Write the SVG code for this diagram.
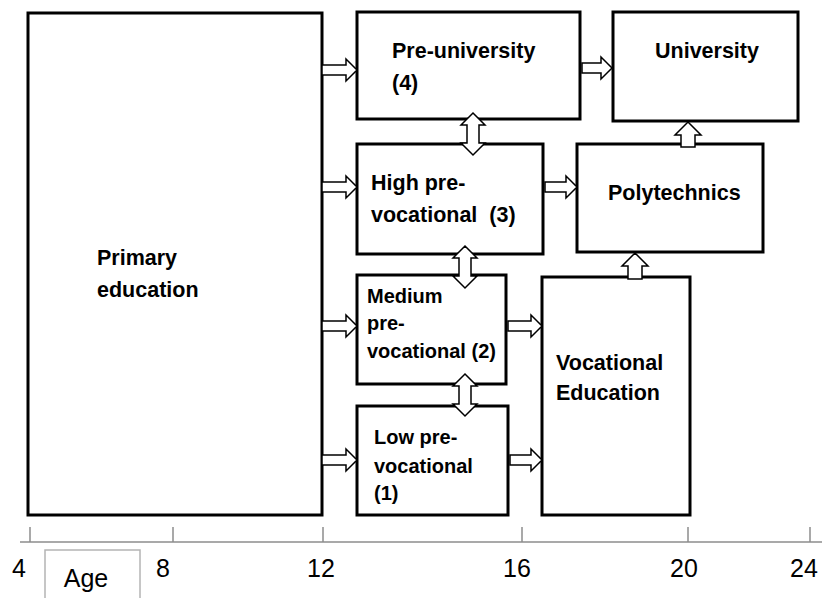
<svg xmlns="http://www.w3.org/2000/svg" width="827" height="598" viewBox="0 0 827 598">
<style>
.box{fill:#fff;stroke:#000;stroke-width:3}
.arr{fill:#fff;stroke:#000;stroke-width:1.5;stroke-linejoin:miter}
.t{font-family:"Liberation Sans",Arial,sans-serif;font-weight:bold;font-size:21.5px;fill:#000}
.ts{font-family:"Liberation Sans",Arial,sans-serif;font-weight:bold;font-size:20px;fill:#000}
.ax{font-family:"Liberation Sans",Arial,sans-serif;font-size:25px;fill:#000;text-anchor:middle}
.tick{stroke:#8c8c8c;stroke-width:1.5}
</style>
<rect width="827" height="598" fill="#fff"/>
<g id="primary"><rect class="box" x="28" y="13" width="294" height="502"/><text class="t" x="97" y="265">Primary</text><text class="t" x="97" y="297">education</text></g>
<g id="preuniversity"><rect class="box" x="357" y="12" width="223" height="107"/><text class="t" x="392" y="58">Pre-university</text><text class="t" x="392" y="90">(4)</text></g>
<g id="university"><rect class="box" x="613" y="12" width="185" height="109"/><text class="t" x="655" y="58">University</text></g>
<g id="highpre"><rect class="box" x="357" y="144" width="186" height="110"/><text class="t" x="371" y="190">High pre-</text><text class="t" x="371" y="222" xml:space="preserve">vocational  (3)</text></g>
<g id="polytechnics"><rect class="box" x="577" y="144" width="186" height="108"/><text class="t" x="608" y="200">Polytechnics</text></g>
<g id="mediumpre"><rect class="box" x="357" y="275" width="149" height="109"/><text class="ts" x="367" y="303">Medium</text><text class="ts" x="367" y="330">pre-</text><text class="ts" x="367" y="358">vocational (2)</text></g>
<g id="vocational"><rect class="box" x="542" y="277" width="148" height="238"/><text class="t" x="556" y="370">Vocational</text><text class="t" x="556" y="400">Education</text></g>
<g id="lowpre"><rect class="box" x="357" y="406" width="151" height="109"/><text class="ts" x="374" y="444">Low pre-</text><text class="ts" x="374" y="473">vocational</text><text class="ts" x="374" y="500">(1)</text></g>
<g id="connectors">
<path class="arr" d="M322,65 H346 V59 L357,70 L346,81 V75 H322 Z"/>
<path class="arr" d="M322,182 H346 V176 L357,187 L346,198 V192 H322 Z"/>
<path class="arr" d="M322,321 H346 V315 L357,326 L346,337 V331 H322 Z"/>
<path class="arr" d="M322,455 H346 V449 L357,460 L346,471 V465 H322 Z"/>
<path class="arr" d="M582,63 H601 V57 L612,68 L601,79 V73 H582 Z"/>
<path class="arr" d="M545,182 H566 V176 L577,187 L566,198 V192 H545 Z"/>
<path class="arr" d="M508,321 H531 V315 L542,326 L531,337 V331 H508 Z"/>
<path class="arr" d="M510,455 H531 V449 L542,460 L531,471 V465 H510 Z"/>
<path class="arr" d="M473,113 L485,125 H479 V143 H485 L473,155 L461,143 H467 V125 H461 Z"/>
<path class="arr" d="M465,246 L477,258 H471 V276 H477 L465,288 L453,276 H459 V258 H453 Z"/>
<path class="arr" d="M465,374 L477,386 H471 V404 H477 L465,416 L453,404 H459 V386 H453 Z"/>
<path class="arr" d="M688,122 L701,135 H695 V147 H681 V135 H675 Z"/>
<path class="arr" d="M635,253 L648,266 H642 V279 H628 V266 H622 Z"/>
</g>
<g id="axis">
<line class="tick" x1="20" y1="542" x2="822" y2="542"/>
<line class="tick" x1="30" y1="527" x2="30" y2="542"/>
<line class="tick" x1="173" y1="527" x2="173" y2="542"/>
<line class="tick" x1="323" y1="527" x2="323" y2="542"/>
<line class="tick" x1="522" y1="527" x2="522" y2="542"/>
<line class="tick" x1="688" y1="527" x2="688" y2="542"/>
<line class="tick" x1="810" y1="527" x2="810" y2="542"/>
<text class="ax" x="19" y="577">4</text>
<text class="ax" x="163" y="577">8</text>
<text class="ax" x="321" y="577">12</text>
<text class="ax" x="517" y="577">16</text>
<text class="ax" x="684" y="577">20</text>
<text class="ax" x="804" y="577">24</text>
<rect x="45" y="550" width="95" height="52" fill="none" stroke="#b4b4b4" stroke-width="1.5"/>
<text class="ax" x="86" y="587">Age</text>
</g>
</svg>
